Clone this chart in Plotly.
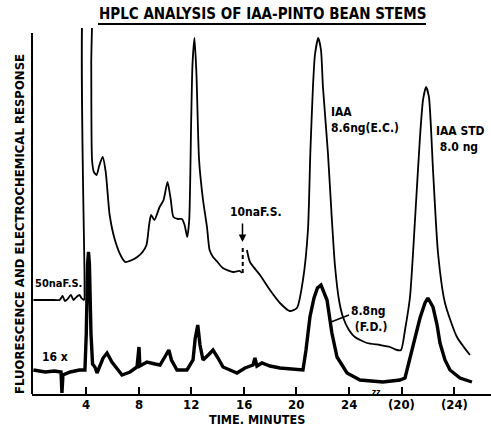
import plotly.graph_objects as go

# ---- data (time in minutes, response in arbitrary chart units) ----
upper_time = [0.0, 1.6, 2.0, 2.22, 2.4, 2.6, 2.85, 3.05, 3.2, 3.5, 3.65, 3.85, 3.89, 3.93,
              4.36, 4.40, 4.46, 4.6, 4.81, 5.0, 5.27, 5.5, 5.8, 6.2, 6.7, 7.0, 7.5, 7.9,
              8.3, 8.6, 8.8, 8.95, 9.2, 9.6, 9.9, 10.2, 10.45, 10.65, 11.0, 11.3, 11.5,
              11.7, 11.85, 12.0, 12.1, 12.25, 12.4, 12.6, 12.9, 13.2, 13.4, 13.66, 14.0,
              14.4, 15.2, 15.7, 15.86,
              None,
              16.24, 16.47, 17.23, 17.99, 18.75, 19.5, 20.04, 20.5, 20.88, 21.06, 21.26,
              21.41, 21.66, 21.87, 22.02, 22.4, 22.7, 22.93, 23.24, 23.54, 24.0, 24.45,
              25.37, 26.36, 27.12, 27.65, 27.96, 28.26, 28.64, 29.02, 29.4, 29.63, 29.86,
              30.08, 30.39, 30.77, 31.3, 32.21, 33.2]
upper_resp = [94, 94, 94, 98, 93, 95, 99, 94, 96, 99, 96, 94, 110, 420,
              420, 330, 234, 222, 219, 228, 237, 222, 179, 154, 137, 132, 134, 137,
              142, 149, 169, 179, 174, 187, 194, 212, 194, 177, 175, 175, 169,
              157, 174, 274, 330, 356, 320, 234, 194, 167, 144, 137, 132,
              126, 122, 123, 121,
              None,
              144, 132, 119, 104, 91, 83, 86, 114, 164, 241, 307,
              339, 356, 344, 307, 241, 174, 129, 94, 77, 64, 57,
              51, 49, 47, 44, 44, 64, 97, 174, 257, 294, 307,
              297, 224, 141, 91, 57, 39]

lower_time = [0.0, 0.9, 1.6, 2.1, 2.17, 2.25, 2.8, 3.5, 3.92, 4.02, 4.12, 4.19, 4.26, 4.38,
              4.5, 4.68, 4.84, 5.3, 5.6, 5.97, 6.74, 7.35, 7.88, 8.03, 8.1, 8.64, 9.25,
              9.63, 10.08, 10.3, 10.5, 10.92, 11.68, 12.14, 12.3, 12.5, 12.67, 12.9, 13.3,
              13.66, 14.04, 14.42, 14.95, 15.48, 16.09, 16.7, 16.85, 17.0, 17.38, 17.99,
              18.75, 19.5, 20.5, 20.73, 21.03, 21.34, 21.6, 21.87, 22.1, 22.33, 22.7,
              23.09, 23.85, 24.84, 26.58, 27.87, 28.26, 28.64, 29.02, 29.4, 29.78, 30.0,
              30.39, 30.7, 30.92, 31.3, 31.68, 32.44, 33.35]
lower_resp = [24, 22, 23, 22, 1, 19, 22, 24, 24, 60, 130, 142, 130, 60,
              30, 27, 21, 36, 41, 32, 19, 22, 27, 47, 28, 32, 30,
              29, 39, 44, 34, 24, 24, 34, 55, 69, 49, 34, 39,
              44, 36, 27, 24, 21, 26, 29, 36, 28, 31, 28,
              26, 25, 24, 44, 77, 96, 106, 109, 102, 94, 61,
              37, 21, 14, 12, 14, 16, 36, 56, 76, 91, 96,
              87, 69, 51, 34, 24, 16, 12]

gain_change_time = [15.92, 15.92]
gain_change_resp = [121, 146]

tick_values = [4, 8, 12, 16, 20, 24, 28, 32]
tick_labels = ["4", "8", "12", "16", "20", "24", "(20)", "(24)"]

FONT = "Liberation Sans Narrow, Arial Narrow, DejaVu Sans Condensed, Roboto Condensed, sans-serif"

fig = go.Figure()
fig.add_trace(go.Scatter(x=upper_time, y=upper_resp, mode="lines",
                         line=dict(color="black", width=1.8, shape="spline", smoothing=0.6),
                         connectgaps=False, hoverinfo="skip"))
fig.add_trace(go.Scatter(x=lower_time, y=lower_resp, mode="lines",
                         line=dict(color="black", width=3.4), hoverinfo="skip"))
fig.add_trace(go.Scatter(x=gain_change_time, y=gain_change_resp, mode="lines",
                         line=dict(color="black", width=2, dash="4px,3px"), hoverinfo="skip"))


def px2t(px):
    return (px - 33.4) / 13.15


def py2v(py):
    return 394 - py


def txt(s, x, y, size=12, xanchor="left", align="left", xref="x", yref="y", angle=0):
    fig.add_annotation(text="<b>" + s + "</b>", x=x, y=y, xref=xref, yref=yref,
                       showarrow=False, xanchor=xanchor, yanchor="middle", align=align,
                       textangle=angle, font=dict(family=FONT, size=size, color="black"))


txt("50naF.S.", px2t(33.5), py2v(283), 11)
txt("16 x", px2t(40), py2v(357), 12)
txt("10naF.S.", px2t(228), py2v(212), 12)
txt("IAA<br>8.6ng(E.C.)", px2t(329), py2v(120), 12)
txt("IAA STD<br> 8.0 ng", px2t(434), py2v(139), 12)
txt("8.8ng<br> (F.D.)", px2t(349), py2v(319), 12)
txt("zz", px2t(376), py2v(392), 8, xanchor="center", align="center")

# x tick labels (placed just under the axis line)
for tv, tl in zip(tick_values, tick_labels):
    fig.add_annotation(text="<b>" + tl + "</b>", x=tv, y=(394 - 404) / 366, xref="x",
                       yref="paper", showarrow=False, xanchor="center", yanchor="middle",
                       font=dict(family=FONT, size=13, color="black"))

# arrow for gain change
fig.add_annotation(x=px2t(242.5), y=py2v(242), xref="x", yref="y", text="",
                   showarrow=True, ax=0, ay=-20, arrowhead=2, arrowsize=1,
                   arrowwidth=1.5, arrowcolor="black")

# title, axis titles
txt("HPLC ANALYSIS OF IAA-PINTO BEAN STEMS", (262 - 32) / 459, (394 - 14) / 366, 15,
    xanchor="center", align="center", xref="paper", yref="paper")
txt("TIME. MINUTES", (257 - 32) / 459, (394 - 419) / 366, 12.5,
    xanchor="center", align="center", xref="paper", yref="paper")
txt("FLUORESCENCE AND ELECTROCHEMICAL RESPONSE", (20 - 32) / 459, (394 - 224) / 366, 13,
    xanchor="center", align="center", xref="paper", yref="paper", angle=-90)

shapes = [
    # y axis line
    dict(type="line", xref="paper", yref="paper", x0=0, x1=0, y0=0, y1=(394 - 33) / 366,
         line=dict(color="black", width=2)),
    # title underline
    dict(type="line", xref="paper", yref="paper", x0=(98 - 32) / 459, x1=(426 - 32) / 459,
         y0=(394 - 24) / 366, y1=(394 - 24) / 366, line=dict(color="black", width=2)),
    # leader line for F.D. label
    dict(type="line", xref="x", yref="y", x0=px2t(331), y0=py2v(322), x1=px2t(349),
         y1=py2v(315), line=dict(color="black", width=1.5)),
]

fig.update_layout(
    width=491, height=427,
    margin=dict(l=32, r=0, t=28, b=33),
    plot_bgcolor="white", paper_bgcolor="white",
    showlegend=False,
    shapes=shapes,
    xaxis=dict(range=[-0.106, 34.8], tickvals=tick_values, showticklabels=False,
               ticks="inside", ticklen=7, tickwidth=2, tickcolor="black",
               showline=True, linewidth=2, linecolor="black", showgrid=False,
               zeroline=False),
    yaxis=dict(range=[0, 366], visible=False),
)

fig.write_html("out.html", config={"displayModeBar": False},
               post_script="document.body.style.margin='0';")
